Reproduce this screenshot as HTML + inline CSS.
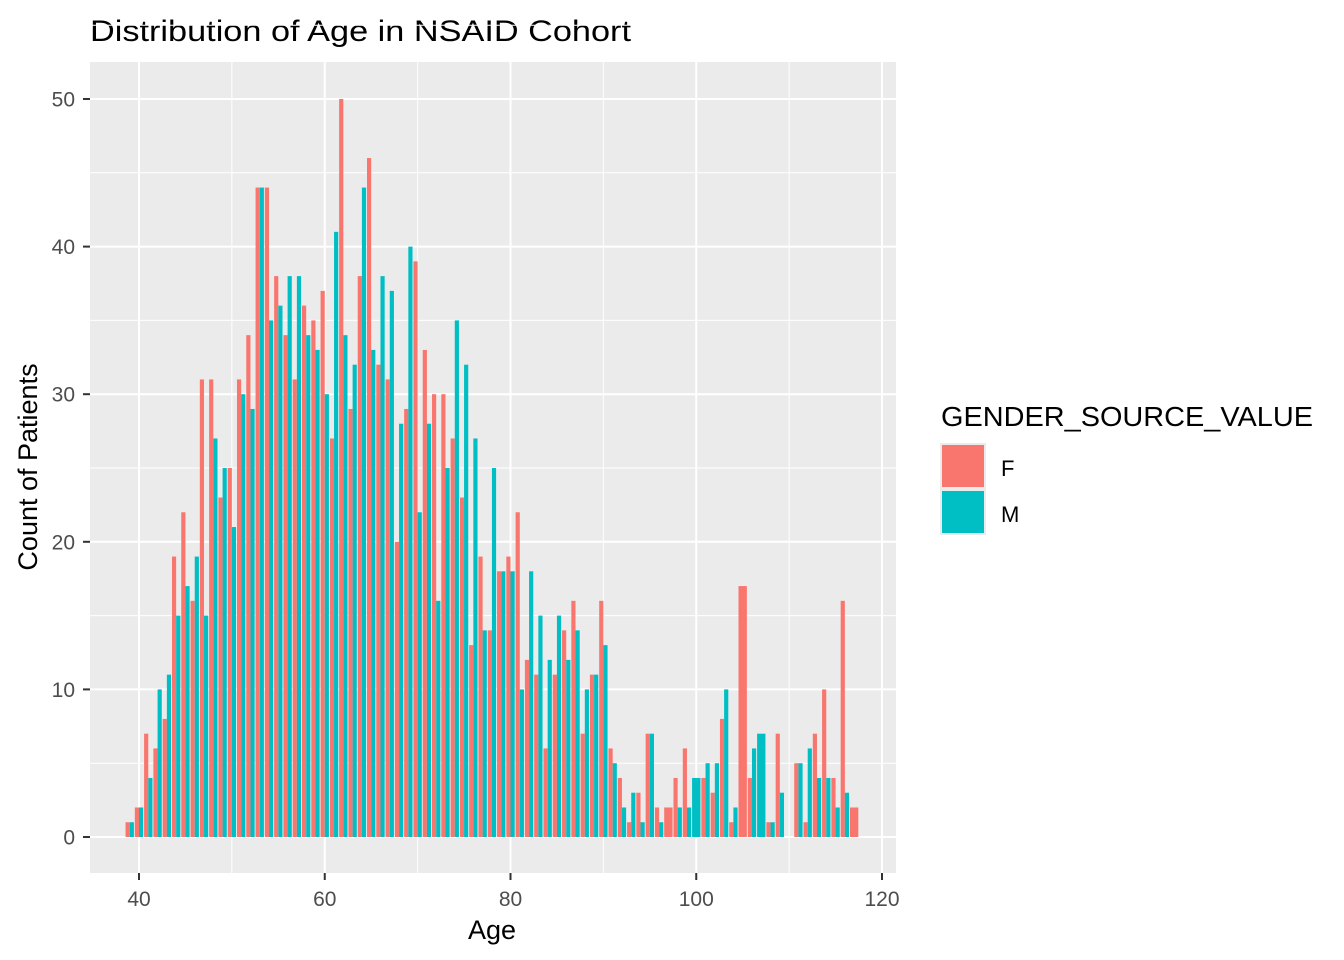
<!DOCTYPE html>
<html><head><meta charset="utf-8"><style>
html,body{margin:0;padding:0;background:#fff;}
svg{display:block;font-family:"Liberation Sans",Arial,sans-serif;}
</style></head><body>
<svg id="chart" width="1344" height="960" xmlns="http://www.w3.org/2000/svg">
<rect x="0" y="0" width="1344" height="960" fill="#fff"/>
<text x="90" y="41" font-size="30" fill="#000" textLength="541" lengthAdjust="spacingAndGlyphs">Distribution of Age in NSAID Cohort</text>
<rect x="90" y="62" width="806" height="811" fill="#ebebeb"/>
<g id="grid"></g>
<g id="bars"></g>
<g id="axes"></g>
<text x="492" y="939" font-size="27" text-anchor="middle" fill="#000">Age</text>
<text transform="translate(37,467) rotate(-90)" font-size="27" text-anchor="middle" fill="#000">Count of Patients</text>
<g>
<text x="941" y="426" font-size="28" fill="#000" textLength="372" lengthAdjust="spacingAndGlyphs">GENDER_SOURCE_VALUE</text>
<rect x="940" y="443" width="46" height="92" fill="#ebebeb"/>
<rect x="942" y="445" width="42" height="42" fill="#F8766D"/>
<rect x="942" y="491" width="42" height="42" fill="#00BFC4"/>
<text x="1001" y="476" font-size="22" fill="#000">F</text>
<text x="1001" y="522" font-size="22" fill="#000">M</text>
</g>
</svg>
<script>
const ages = [39,40,41,42,43,44,45,46,47,48,49,50,51,52,53,54,55,56,57,58,59,60,61,62,63,64,65,66,67,68,69,70,71,72,73,74,75,76,77,78,79,80,81,82,83,84,85,86,87,88,89,90,91,92,93,94,95,96,97,98,99,100,101,102,103,104,105,106,107,108,109,111,112,113,114,115,116,117];
const femaleCounts = [1,2,7,6,8,19,22,16,31,31,23,25,31,34,44,44,38,34,31,36,35,37,27,50,29,38,46,32,31,20,29,39,33,30,30,27,23,13,19,14,18,19,22,12,11,6,11,14,16,7,11,16,6,4,1,3,7,2,2,4,6,0,4,3,8,1,17,4,0,1,7,5,1,7,10,4,16,2];
const maleCounts = [1,2,4,10,11,15,17,19,15,27,25,21,30,29,44,35,36,38,38,34,33,30,41,34,32,44,33,38,37,28,40,22,28,16,25,35,32,27,14,25,18,18,10,18,15,12,15,12,14,10,11,13,5,2,3,1,7,1,0,2,2,4,5,5,10,2,0,6,7,1,3,5,6,4,4,2,3,0];
const xTicks = [40,60,80,100,120];
const yTicks = [0,10,20,30,40,50];

const NS = 'http://www.w3.org/2000/svg';
const P = {l:90, r:896, t:62, b:873};
const xScale = v => 139 + (v - 40) * (882 - 139) / 80;
const yScale = v => 837 - v * (837 - 99) / 50;
const unit = xScale(1) - xScale(0);
function mk(tag, attrs, parent){ const e=document.createElementNS(NS,tag); for(const k in attrs) e.setAttribute(k,attrs[k]); parent.appendChild(e); return e; }

const grid = document.getElementById('grid');
for (let v = 35; v <= 55; v += 5) {
  const minor = v % 10 !== 0;
  const ln = mk('line',{x1:P.l,x2:P.r,y1:yScale(v),y2:yScale(v),stroke:'#fff','stroke-width':minor?1:2},grid);
  
  
}
for (let v = -5; v < 35; v += 5) {
  if (v < -2) continue;
  const minor = v % 10 !== 0;
  const ln = mk('line',{x1:P.l,x2:P.r,y1:yScale(v),y2:yScale(v),stroke:'#fff','stroke-width':minor?1:2},grid);
  
  
}
for (let v = 40; v <= 120; v += 10) {
  const minor = v % 20 !== 0;
  const ln = mk('line',{x1:xScale(v),x2:xScale(v),y1:P.t,y2:P.b,stroke:'#fff','stroke-width':minor?1:2},grid);
  
  
}

const bars = document.getElementById('bars');
const w = 0.9 * unit;
ages.forEach((a, i) => {
  const f = femaleCounts[i], m = maleCounts[i];
  const left = xScale(a) - w / 2;
  const both = f > 0 && m > 0;
  if (f > 0) {
    const r = mk('rect',{x:left,y:yScale(f),width:both?w/2:w,height:yScale(0)-yScale(f),fill:'#F8766D'},bars);
    
    
  }
  if (m > 0) {
    const r = mk('rect',{x:both?left+w/2:left,y:yScale(m),width:both?w/2:w,height:yScale(0)-yScale(m),fill:'#00BFC4'},bars);
    
    
  }
});

const axes = document.getElementById('axes');
yTicks.forEach(v => {
  const t = mk('line',{x1:83,x2:90,y1:yScale(v),y2:yScale(v),stroke:'#333','stroke-width':2},axes);
  
  
  const tx = mk('text',{x:75,y:yScale(v)+7.5,'font-size':21,fill:'#4d4d4d','text-anchor':'end'},axes);
  tx.textContent = v;
  
  
});
xTicks.forEach(v => {
  const t = mk('line',{x1:xScale(v),x2:xScale(v),y1:873,y2:880,stroke:'#333','stroke-width':2},axes);
  
  
  const tx = mk('text',{x:xScale(v),y:906,'font-size':21,fill:'#4d4d4d','text-anchor':'middle'},axes);
  tx.textContent = v;
  
  
});
</script>
</body></html>
